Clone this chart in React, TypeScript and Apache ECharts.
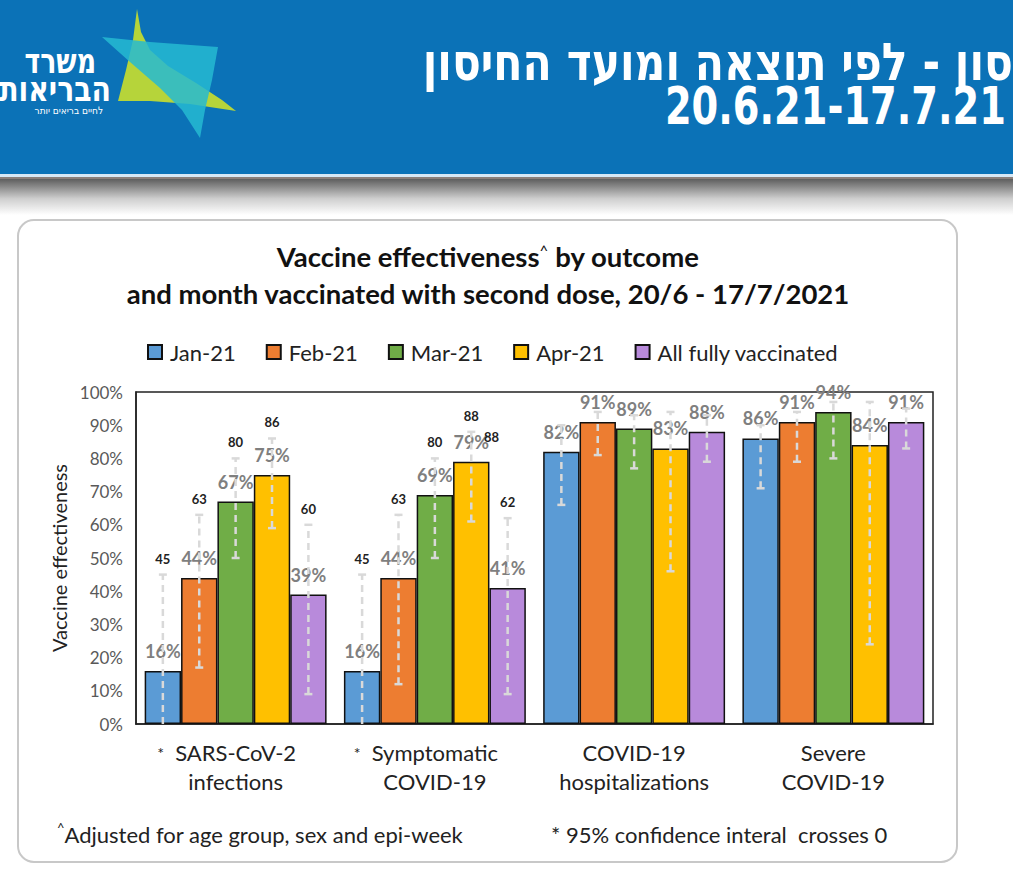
import React, { useEffect, useRef } from "react";
import * as echarts from "echarts";

// ---------- data ----------
const categories = ["SARS-CoV-2\ninfections", "Symptomatic\nCOVID-19", "COVID-19\nhospitalizations", "Severe\nCOVID-19"];
const ciCrossesZero = [true, true, false, false];
const seriesNames = ["Jan-21", "Feb-21", "Mar-21", "Apr-21", "All fully vaccinated"];

const jan = [16, 16, 82, 86];
const feb = [44, 44, 91, 91];
const mar = [67, 69, 89, 94];
const apr = [75, 79, 83, 84];
const allVax = [39, 41, 88, 91];

// 95% CI lower bounds (negative bounds shown down to 0)
const janLow = [0, 0, 66, 71];
const febLow = [17, 12, 81, 79];
const marLow = [50, 50, 77, 80];
const aprLow = [59, 61, 46, 24];
const allLow = [9, 9, 79, 83];

// 95% CI upper bounds
const janHigh = [45, 45, 90, 90];
const febHigh = [63, 63, 94, 94];
const marHigh = [80, 80, 93, 97];
const aprHigh = [86, 88, 94, 97];
const allHigh = [60, 62, 93, 95];

// upper-bound labels are printed only for the first two outcomes
const showUpperLabel = [true, true, false, false];
// stray label in the original slide (next to Apr-21, symptomatic)
const aprExtraLabel = ["", "88", "", ""];

const values = [jan, feb, mar, apr, allVax];
const lows = [janLow, febLow, marLow, aprLow, allLow];
const highs = [janHigh, febHigh, marHigh, aprHigh, allHigh];
const extraLabels = [["", "", "", ""], ["", "", "", ""], ["", "", "", ""], aprExtraLabel, ["", "", "", ""]];

const colors = ["#5B9BD5", "#ED7D31", "#70AD47", "#FFC000", "#B88ADB"];

const FONT = "Lato, 'Open Sans', sans-serif";
const HEB = "'Liberation Sans Narrow', 'DejaVu Sans Condensed', 'Liberation Sans', sans-serif";
const CAT_GAP = 0.087;

export default function App() {
  const ref = useRef<HTMLDivElement>(null);

  useEffect(() => {
    if (!ref.current) return;
    const chart = echarts.init(ref.current, undefined, { renderer: "svg" });

    const barSeries = seriesNames.map((name, s) => ({
      type: "bar",
      name,
      data: values[s],
      barGap: "0%",
      barCategoryGap: (CAT_GAP * 100).toFixed(1) + "%",
      itemStyle: { color: colors[s], borderColor: "#111", borderWidth: 1.5 },
      label: {
        show: true,
        position: "top",
        distance: 11,
        formatter: "{c}%",
        color: "#7F7F7F",
        fontFamily: FONT,
        fontWeight: "bold",
        fontSize: 18,
      },
      z: 2,
    }));

    const errSeries = seriesNames.map((_, s) => ({
      type: "custom",
      z: 4,
      encode: { x: 0, y: [1, 2] },
      data: categories.map((_c, i) => [i, lows[s][i], highs[s][i]]),
      renderItem: (params: any, api: any) => {
        const cat = api.value(0);
        const lo = Math.max(0, api.value(1));
        const hi = api.value(2);
        const base = api.coord([cat, 0]);
        const band = api.size([1, 0])[0];
        const bw = (band * (1 - CAT_GAP)) / 5;
        const x = base[0] + (s - 2) * bw;
        const yLo = api.coord([cat, lo])[1];
        const yHi = api.coord([cat, hi])[1];
        const stroke = "#D9D9D9";
        const children: any[] = [
          { type: "line", shape: { x1: x, y1: yLo, x2: x, y2: yHi }, style: { stroke, lineWidth: 2.5, lineDash: [7, 5] } },
          { type: "line", shape: { x1: x - 4, y1: yHi, x2: x + 4, y2: yHi }, style: { stroke, lineWidth: 2.5 } },
        ];
        if (lo > 0) {
          children.push({ type: "line", shape: { x1: x - 4, y1: yLo, x2: x + 4, y2: yLo }, style: { stroke, lineWidth: 2.5 } });
        }
        const i = params.dataIndex;
        if (showUpperLabel[i]) {
          children.push({
            type: "text",
            x,
            y: yHi - 16,
            style: {
              text: String(highs[s][i]),
              fill: "#222",
              fontFamily: FONT,
              fontWeight: "bold",
              fontSize: 13,
              align: "center",
              verticalAlign: "middle",
            },
          });
        }
        const extra = extraLabels[s][i];
        if (extra) {
          const yTop = api.coord([cat, values[s][i]])[1];
          children.push({
            type: "text",
            x: x + bw / 2 + 2,
            y: yTop - 25,
            style: {
              text: extra,
              fill: "#222",
              fontFamily: FONT,
              fontWeight: "bold",
              fontSize: 13,
              align: "center",
              verticalAlign: "middle",
            },
          });
        }
        return { type: "group", children };
      },
    }));

    const option: any = {
      animation: false,
      backgroundColor: "#ffffff",
      graphic: [
        // header band
        { type: "rect", shape: { x: 0, y: 0, width: 1013, height: 174 }, style: { fill: "#0B72B7" }, z: 1 },
        { type: "rect", shape: { x: 0, y: 174, width: 1013, height: 3 }, style: { fill: "#D6E8F5" }, z: 1 },
        { type: "rect", shape: { x: 0, y: 177, width: 1013, height: 2 }, style: { fill: "#8A7F7A" }, z: 1 },
        {
          type: "rect",
          shape: { x: 0, y: 179, width: 1013, height: 36 },
          style: {
            fill: {
              type: "linear", x: 0, y: 0, x2: 0, y2: 1,
              colorStops: [
                { offset: 0, color: "#5E5E5E" },
                { offset: 0.55, color: "#CFCFCF" },
                { offset: 1, color: "#FFFFFF" },
              ],
            },
          },
          z: 1,
        },
        // logo shapes
        {
          type: "polygon",
          shape: { points: [[137, 9], [141, 32], [150, 50], [168, 66], [196, 83], [222, 100], [236, 111], [190, 104], [150, 101], [118, 101], [126, 70], [133, 40]] },
          style: { fill: "#B6D43A" },
          z: 2,
        },
        {
          type: "polygon",
          shape: { points: [[102, 37], [150, 42], [218, 47], [212, 80], [205, 110], [200, 138], [182, 110], [160, 88], [130, 62]] },
          style: { fill: "rgba(38,186,210,0.85)" },
          z: 3,
        },
        { type: "text", x: 96, y: 61, scaleX: 0.85, style: { text: "משרד", x: 0, y: 0, fill: "#fff", font: `bold 35px ${HEB}`, align: "right", verticalAlign: "middle" }, z: 3 },
        { type: "text", x: 111, y: 89, scaleX: 0.9, style: { text: "הבריאות", x: 0, y: 0, fill: "#fff", font: `bold 35px ${HEB}`, align: "right", verticalAlign: "middle" }, z: 3 },
        { type: "text", style: { text: "לחיים בריאים יותר", x: 103, y: 110, fill: "#fff", font: `10px ${HEB}`, align: "right", verticalAlign: "middle" }, z: 3 },
        // header titles
        { type: "text", x: 1013, y: 62, scaleX: 0.91, style: { text: "סון - לפי תוצאה ומועד החיסון", x: 0, y: 0, fill: "#fff", font: `bold 52px ${HEB}`, align: "right", verticalAlign: "middle" }, z: 3 },
        { type: "text", x: 1006, y: 106, scaleX: 0.82, style: { text: "20.6.21-17.7.21", x: 0, y: 0, fill: "#fff", font: `bold 52px ${HEB}`, align: "right", verticalAlign: "middle" }, z: 3 },
        // card
        { type: "rect", shape: { x: 18, y: 220, width: 939, height: 642, r: 16 }, style: { fill: "#fff", stroke: "#C8C8C8", lineWidth: 2 }, z: -10 },
        // chart titles
        {
          type: "text",
          style: {
            text: "Vaccine effectiveness{sup|^} by outcome",
            x: 488, y: 256, align: "center", verticalAlign: "middle",
            fill: "#111", font: `bold 27.5px ${FONT}`,
            rich: { sup: { fontSize: 15, fontFamily: FONT, fill: "#111", padding: [0, 0, 12, 0] } },
          },
          z: 3,
        },
        {
          type: "text",
          style: {
            text: "and month vaccinated with second dose, 20/6 - 17/7/2021",
            x: 488, y: 293, align: "center", verticalAlign: "middle",
            fill: "#111", font: `bold 27.5px ${FONT}`,
          },
          z: 3,
        },
        // footnotes
        {
          type: "text",
          style: {
            text: "{sup|^}Adjusted for age group, sex and epi-week",
            x: 57, y: 834, align: "left", verticalAlign: "middle",
            fill: "#222", font: `22px ${FONT}`,
            rich: { sup: { fontSize: 13, fontFamily: FONT, fill: "#222", padding: [0, 0, 12, 0] } },
          },
          z: 3,
        },
        {
          type: "text",
          style: {
            text: "* 95% confidence interal  crosses 0",
            x: 551, y: 834, align: "left", verticalAlign: "middle",
            fill: "#222", font: `22px ${FONT}`,
          },
          z: 3,
        },
      ],
      legend: {
        data: seriesNames,
        left: 142,
        top: 335,
        itemWidth: 14,
        itemHeight: 14,
        itemGap: 30,
        icon: "rect",
        textStyle: { fontFamily: FONT, fontSize: 22, color: "#222", padding: [0, 0, 0, 3], lineHeight: 24 },
      },
      grid: {
        left: 136, right: 80, top: 392, bottom: 161,
        show: true, borderColor: "#222", borderWidth: 1.5, backgroundColor: "transparent",
      },
      xAxis: {
        type: "category",
        data: categories,
        axisTick: { show: false },
        axisLine: { lineStyle: { color: "#222", width: 1.5 } },
        axisLabel: {
          interval: 0,
          margin: 14,
          formatter: (value: string, idx: number) => {
            const [l1, l2] = value.split("\n");
            if (ciCrossesZero[idx]) return `{star|*}{t|${l1}}{pad|}\n{t|${l2}}`;
            return `{t|${l1}}\n{t|${l2}}`;
          },
          rich: {
            t: { fontFamily: FONT, fontSize: 22, color: "#222", lineHeight: 29 },
            star: { fontFamily: FONT, fontSize: 16, color: "#222", width: 18, align: "left", lineHeight: 29 },
            pad: { width: 18, lineHeight: 29 },
          },
        },
      },
      yAxis: {
        type: "value",
        min: 0,
        max: 100,
        interval: 10,
        name: "Vaccine effectiveness",
        nameLocation: "middle",
        nameGap: 66,
        nameTextStyle: { fontFamily: FONT, fontSize: 20, color: "#222" },
        axisLine: { show: true, lineStyle: { color: "#222", width: 1.5 } },
        axisTick: { show: false },
        splitLine: { show: false },
        axisLabel: { formatter: "{value}%", fontFamily: FONT, fontSize: 17, color: "#595959", margin: 13 },
      },
      series: [...barSeries, ...errSeries],
    };

    chart.setOption(option);
    return () => chart.dispose();
  }, []);

  return <div ref={ref} style={{ position: "fixed", left: 0, top: 0, width: 1013, height: 885 }} />;
}
